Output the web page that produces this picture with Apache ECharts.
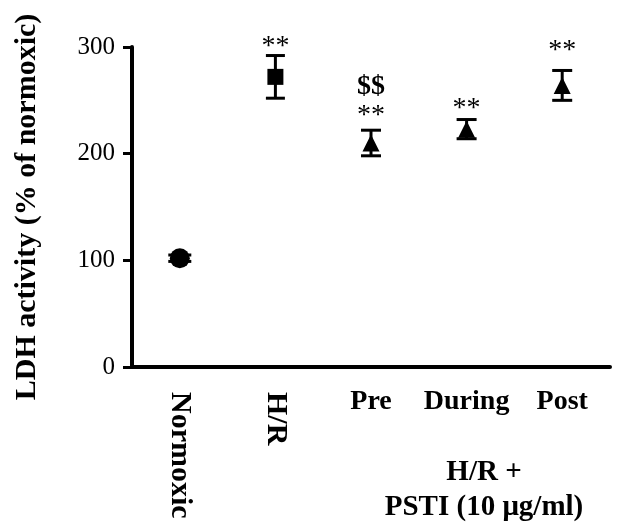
<!DOCTYPE html>
<html>
<head>
<meta charset="utf-8">
<script src="https://cdn.jsdelivr.net/npm/echarts@6/dist/echarts.min.js"></script>
<style>
  html, body { margin: 0; padding: 0; background: #fff; }
  #main { width: 624px; height: 529px; }
</style>
</head>
<body>
<div id="main"></div>
<script>
// values
var groups = ["Normoxic", "H/R", "Pre", "During", "Post"];
var means = [102, 272, 210, 223, 264];
var errs = [3, 20, 12, 9, 14];
var yTicks = [0, 100, 200, 300];
// significance marks and where they sit (value units)
var starText = ["", "**", "**", "**", "**"];
var starAt = [null, 306, 241, 248, 302];
var dollarText = ["", "", "$$", "", ""];
var dollarAt = [null, null, 263, null, null];

var FONT = "Liberation Serif";
var shapes = ["circle", "rect", "triangle", "triangle", "triangle"];
var shapeSize = { circle: 20, rect: 16, triangle: 17 };

var chartDom = document.getElementById("main");
var myChart = echarts.init(chartDom);

var pointData = groups.map(function (g, i) {
  return {
    value: [i, means[i]],
    symbol: shapes[i],
    symbolSize: shapeSize[shapes[i]]
  };
});
var errData = groups.map(function (g, i) {
  return [i, means[i] - errs[i], means[i] + errs[i]];
});
var markData = [];
groups.forEach(function (g, i) {
  if (starText[i]) markData.push({ value: [i, starAt[i]], txt: starText[i], kind: "star" });
  if (dollarText[i]) markData.push({ value: [i, dollarAt[i]], txt: dollarText[i], kind: "dollar" });
});

var option = {
  animation: false,
  grid: { left: 132, right: 14, top: 47, bottom: 162 },
  xAxis: [
    {
      type: "category",
      data: groups,
      position: "bottom",
      axisLine: { lineStyle: { color: "#000", width: 4 } },
      axisTick: { alignWithLabel: true, length: 8, lineStyle: { color: "#000", width: 3 } },
      axisLabel: {
        interval: 0,
        rotate: -90,
        margin: 25,
        color: "#000",
        fontFamily: FONT,
        fontWeight: "bold",
        fontSize: 30,
        formatter: function (v, i) { return i < 2 ? v : ""; }
      }
    },
    {
      type: "category",
      data: groups,
      position: "bottom",
      axisLine: { show: false },
      axisTick: { show: false },
      axisLabel: {
        interval: 0,
        margin: 21,
        color: "#000",
        fontFamily: FONT,
        fontWeight: "bold",
        fontSize: 28,
        formatter: function (v, i) { return i >= 2 ? v : ""; }
      }
    }
  ],
  yAxis: {
    type: "value",
    min: yTicks[0],
    max: yTicks[yTicks.length - 1],
    interval: 100,
    name: "LDH activity (% of normoxic)",
    nameLocation: "middle",
    nameGap: 90,
    nameTextStyle: { color: "#000", fontFamily: FONT, fontWeight: "bold", fontSize: 30 },
    axisLine: { show: true, lineStyle: { color: "#000", width: 4 } },
    axisTick: { show: true, length: 9, lineStyle: { color: "#000", width: 3 } },
    axisLabel: { margin: 17, color: "#000", fontFamily: FONT, fontSize: 25 },
    splitLine: { show: false }
  },
  graphic: [
    {
      type: "text",
      x: 484,
      y: 455,
      style: {
        text: "H/R +\nPSTI (10 \u03bcg/ml)",
        align: "center",
        verticalAlign: "top",
        font: "bold 29px " + FONT,
        lineHeight: 35,
        fill: "#000"
      }
    }
  ],
  series: [
    {
      type: "custom",
      name: "error",
      data: errData,
      renderItem: function (params, api) {
        var i = params.dataIndex;
        var x = api.value(0);
        var lo = api.coord([x, api.value(1)]);
        var hi = api.coord([x, api.value(2)]);
        // caps poke out a little past the big circle
        var w = Math.max(9, shapeSize[shapes[i]] / 2 + 1.5);
        var st = { stroke: "#000", lineWidth: 3 };
        return {
          type: "group",
          children: [
            { type: "line", shape: { x1: lo[0], y1: lo[1], x2: hi[0], y2: hi[1] }, style: st },
            { type: "line", shape: { x1: hi[0] - w, y1: hi[1], x2: hi[0] + w, y2: hi[1] }, style: st },
            { type: "line", shape: { x1: lo[0] - w, y1: lo[1], x2: lo[0] + w, y2: lo[1] }, style: st }
          ]
        };
      },
      z: 2
    },
    {
      type: "scatter",
      name: "mean",
      data: pointData,
      itemStyle: { color: "#000", opacity: 1 },
      z: 3
    },
    {
      type: "custom",
      name: "marks",
      data: markData,
      renderItem: function (params, api) {
        var d = markData[params.dataIndex];
        var p = api.coord([api.value(0), api.value(1)]);
        var isStar = d.kind === "star";
        return {
          type: "text",
          x: p[0],
          y: p[1] + (isStar ? 6 : 0),
          style: {
            text: d.txt,
            align: "center",
            verticalAlign: "middle",
            font: (isStar ? "" : "bold ") + "28px " + FONT,
            fill: "#000"
          }
        };
      },
      z: 4
    }
  ]
};

option && myChart.setOption(option);
</script>
</body>
</html>
